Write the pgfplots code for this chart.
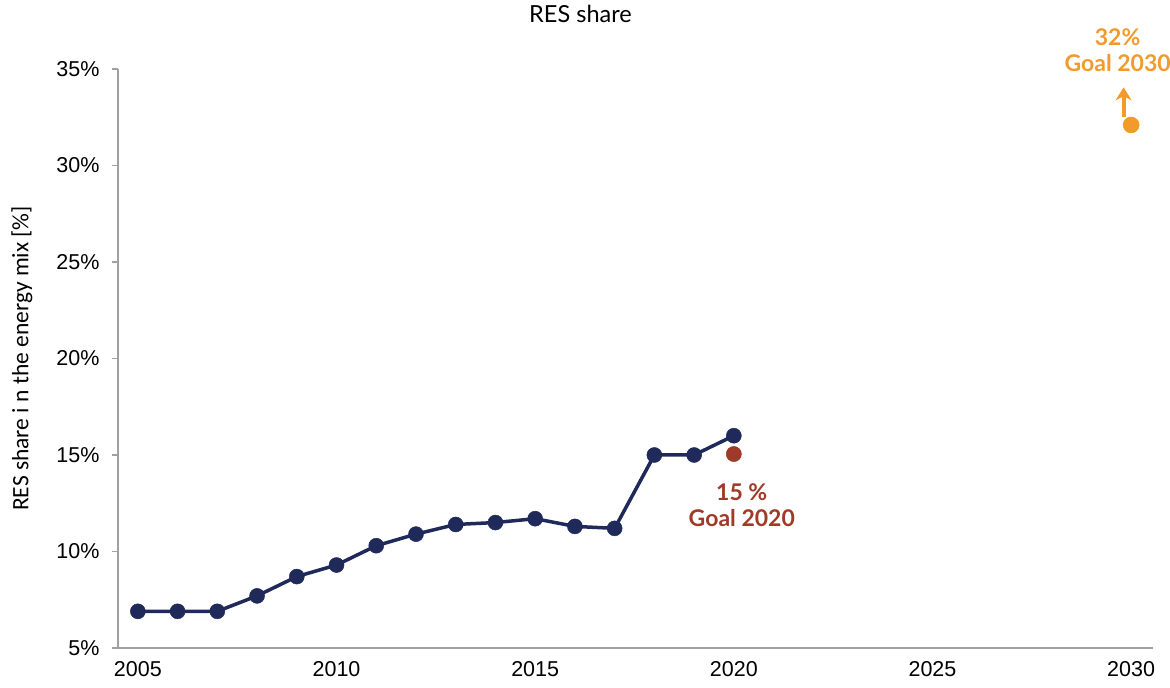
\documentclass[border=0pt]{standalone}
\usepackage{pgfplots}
\pgfplotsset{compat=1.18}
\usetikzlibrary{arrows.meta}
\usepackage{fontspec}
\setmainfont{Lato}
\newfontfamily\arialfont{Liberation Sans}
\newfontfamily\labfont{Carlito}
\definecolor{navy}{HTML}{1F2A5A}
\definecolor{goalred}{HTML}{A03A28}
\definecolor{goalorange}{HTML}{F39A2C}
\definecolor{axgray}{HTML}{A0A0A0}
\begin{document}
\begin{tikzpicture}
\path[use as bounding box] (0,0) rectangle (1170pt,688pt);
\begin{axis}[
  at={(118pt,40pt)}, anchor=south west,
  scale only axis, width=1035pt, height=579pt,
  xmin=2004.5, xmax=2030.55, ymin=5, ymax=35,
  axis x line*=bottom, axis y line*=left,
  axis line style={draw=axgray, line width=1.5pt, -},
  x axis line style={shorten <=-6pt},
  xtick={2005,2010,...,2030},
  ytick={5,10,...,35},
  yticklabels={5\%,10\%,15\%,20\%,25\%,30\%,35\%},
  x tick label style={/pgf/number format/1000 sep={}},
  /pgf/number format/assume math mode=true,
  tick label style={font=\arialfont\fontsize{21.5}{25}\selectfont, text=black},
  xtick style={draw=none},
  ytick style={draw=axgray, line width=1.5pt},
  major tick length=6pt,
  tick align=outside,
  yticklabel shift=9pt,
  xticklabel shift=4pt,
  ylabel={RES share i n the energy mix [\%]},
  ylabel style={font=\labfont\fontsize{23.5}{27}\selectfont, at={(axis description cs:0,0.5)}, anchor=center, yshift=96pt},
  title={RES share},
  title style={font=\fontsize{23.5}{27}\selectfont, at={(axis description cs:0.5,1)}, anchor=center, xshift=-55pt, yshift=49pt},
  clip=false,
]
\addplot[navy, line width=3.5pt, mark=*, mark size=7.5pt, mark options={fill=navy, draw=navy, line width=0.5pt}] coordinates {
(2005,6.9) (2006,6.9) (2007,6.9) (2008,7.7) (2009,8.7) (2010,9.3) (2011,10.3) (2012,10.9) (2013,11.4) (2014,11.5) (2015,11.7) (2016,11.3) (2017,11.2) (2018,15.0) (2019,15.0) (2020,16.0)
};
\addplot[only marks, mark=*, mark size=7.6pt, mark options={fill=goalred, draw=goalred, line width=0.5pt}] coordinates {(2020,15.05)};
\addplot[only marks, mark=*, mark size=8pt, mark options={fill=goalorange, draw=goalorange, line width=0.5pt}] coordinates {(2030,32.1)};
\draw[goalorange, line width=4pt, -{Stealth[length=13pt,width=16pt]}] (axis cs:2029.81,32.5) -- (axis cs:2029.81,34.05);
\node[font=\bfseries\fontsize{23}{26}\selectfont, text=goalred, align=center] at (axis cs:2020.2,12.4) {15 \%\\Goal 2020};
\node[font=\bfseries\fontsize{23}{26}\selectfont, text=goalorange, align=center] at (axis cs:2029.66,35.98) {32\%\\Goal 2030};
\end{axis}
\end{tikzpicture}
\end{document}
